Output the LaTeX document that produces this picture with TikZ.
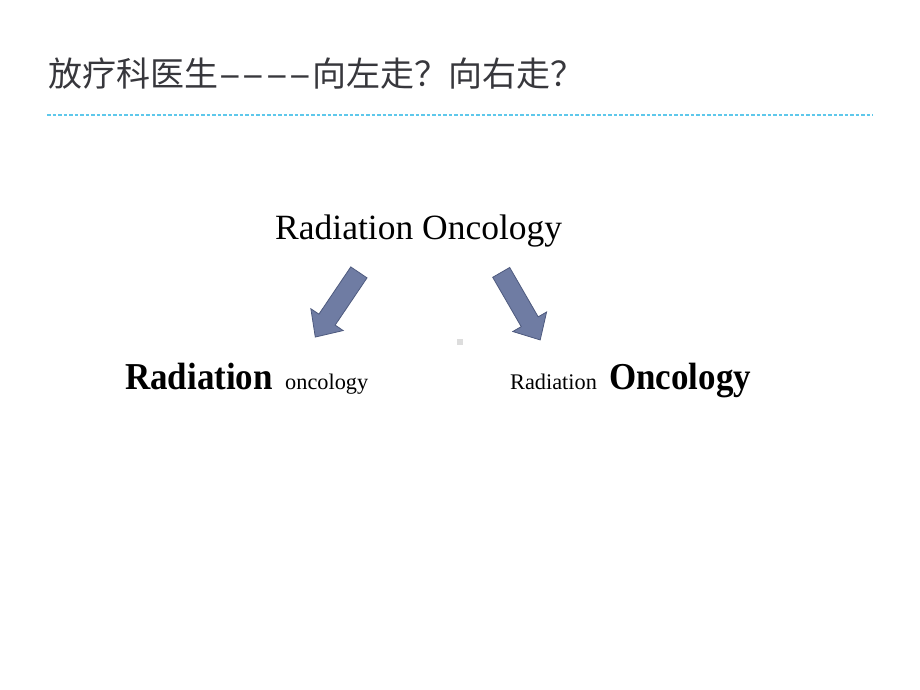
\documentclass[tikz,border=0pt]{standalone}
\usepackage{fontspec}
\setmainfont{Liberation Serif}
\newfontfamily\cjk{Noto Sans CJK SC}
\usepackage{graphicx}
\definecolor{titlegray}{RGB}{55,55,60}
\definecolor{ruleblue}{RGB}{95,200,235}
\definecolor{arrowfill}{RGB}{111,124,163}
\definecolor{arrowline}{RGB}{78,90,126}
\definecolor{dotgray}{RGB}{221,221,221}
\tikzset{
  txt/.style={inner sep=0pt, anchor=base west},
  blockarrow/.style={fill=arrowfill, draw=arrowline, line width=0.8pt, line join=miter},
}
\newcommand{\bigbold}[1]{\scalebox{0.92}[1]{\fontsize{38}{44}\selectfont\bfseries #1}}
\newcommand{\smalltxt}[1]{{\fontsize{22.3}{26}\selectfont #1}}
\begin{document}
\begin{tikzpicture}[x=1pt,y=1pt]
\useasboundingbox (0,0) rectangle (920,690);
% title
\node[txt, text=titlegray] (title) at (48,603)
  {\cjk\fontsize{34}{40}\selectfont 放疗科医生\scalebox{2.0}[1]{----}向左走？向右走？};
% dashed rule
\coordinate (ruleL) at (47,575);
\coordinate (ruleR) at (873,575);
\draw[ruleblue, line width=1.3pt, dash pattern=on 3.5pt off 2pt] (ruleL) -- (ruleR);
% main heading
\node[txt] (main) at (275,450) {\fontsize{35.5}{40}\selectfont Radiation Oncology};
% left branch
\node[txt] (leftbold) at (125,300) {\bigbold{Radiation}};
\node[txt] (leftsmall) at (285,300) {\smalltxt{oncology}};
% right branch
\node[txt] (rightsmall) at (510,300) {\smalltxt{Radiation}};
\node[txt] (rightbold) at (609,300) {\bigbold{Oncology}};
% block arrows
\coordinate (lt) at (358.9,417.6);
\coordinate (rt) at (501.2,417.6);
\begin{scope}[shift={(lt)}, rotate=236]
  \draw[blockarrow] (0,-9.8) -- (57,-9.8) -- (57,-19.5) -- (78,0) -- (57,19.5) -- (57,9.8) -- (0,9.8) -- cycle;
\end{scope}
\begin{scope}[shift={(rt)}, rotate=-60]
  \draw[blockarrow] (0,-9.8) -- (57,-9.8) -- (57,-19.5) -- (78,0) -- (57,19.5) -- (57,9.8) -- (0,9.8) -- cycle;
\end{scope}
% small gray square
\fill[dotgray] (457,345) rectangle (463,351);
\end{tikzpicture}
\end{document}
